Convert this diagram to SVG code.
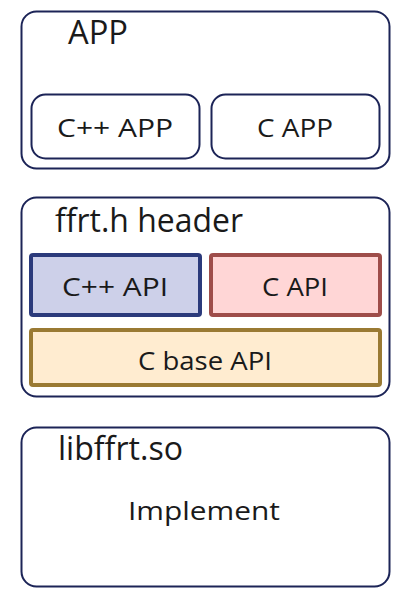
<svg xmlns="http://www.w3.org/2000/svg" width="404" height="604" viewBox="0 0 404 604">
<style>
.outer{fill:#fff;stroke:#1c2457;stroke-width:2}
.inner{fill:#fff;stroke:#1c2457;stroke-width:2}
.t{font-family:"Open Sans","Noto Sans","Liberation Sans",sans-serif;fill:#1a1a1a}
.big{font-size:32px}
.mid{font-size:26px}
</style>
<rect width="404" height="604" fill="#fff"/>
<g id="app">
<rect class="outer" x="21.5" y="11.5" width="368" height="157" rx="15"/>
<text class="t big" x="68" y="44" textLength="60" lengthAdjust="spacingAndGlyphs">APP</text>
</g>
<g id="cpp-app">
<rect class="inner" x="31.5" y="94.5" width="168" height="64" rx="14"/>
<text class="t mid" x="57" y="137" textLength="116" lengthAdjust="spacingAndGlyphs">C++ APP</text>
</g>
<g id="c-app">
<rect class="inner" x="211.5" y="94.5" width="168" height="64" rx="14"/>
<text class="t mid" x="257" y="137" textLength="76" lengthAdjust="spacingAndGlyphs">C APP</text>
</g>
<g id="header">
<rect class="outer" x="21.5" y="197.5" width="368" height="199" rx="15"/>
<text class="t big" x="55" y="232" textLength="188" lengthAdjust="spacingAndGlyphs">ffrt.h header</text>
</g>
<g id="cpp-api">
<rect x="31" y="255" width="169" height="60" rx="2" fill="#cdd0e9" stroke="#2b3a7b" stroke-width="4"/>
<text class="t mid" x="62" y="296" textLength="106" lengthAdjust="spacingAndGlyphs">C++ API</text>
</g>
<g id="c-api">
<rect x="211" y="255" width="169" height="60" rx="2" fill="#ffd6d6" stroke="#9e4d4a" stroke-width="4"/>
<text class="t mid" x="262" y="296" textLength="66" lengthAdjust="spacingAndGlyphs">C API</text>
</g>
<g id="c-base-api">
<rect x="31" y="330" width="349" height="55" rx="2" fill="#ffecd0" stroke="#9a7a33" stroke-width="4"/>
<text class="t mid" x="138" y="370" textLength="134" lengthAdjust="spacingAndGlyphs">C base API</text>
</g>
<g id="libffrt">
<rect class="outer" x="21.5" y="427.5" width="368" height="159" rx="15"/>
<text class="t big" x="58" y="460" textLength="125" lengthAdjust="spacingAndGlyphs">libffrt.so</text>
<text class="t mid" x="128" y="520" textLength="152" lengthAdjust="spacingAndGlyphs">Implement</text>
</g>
<g id="connectors"/>
</svg>
